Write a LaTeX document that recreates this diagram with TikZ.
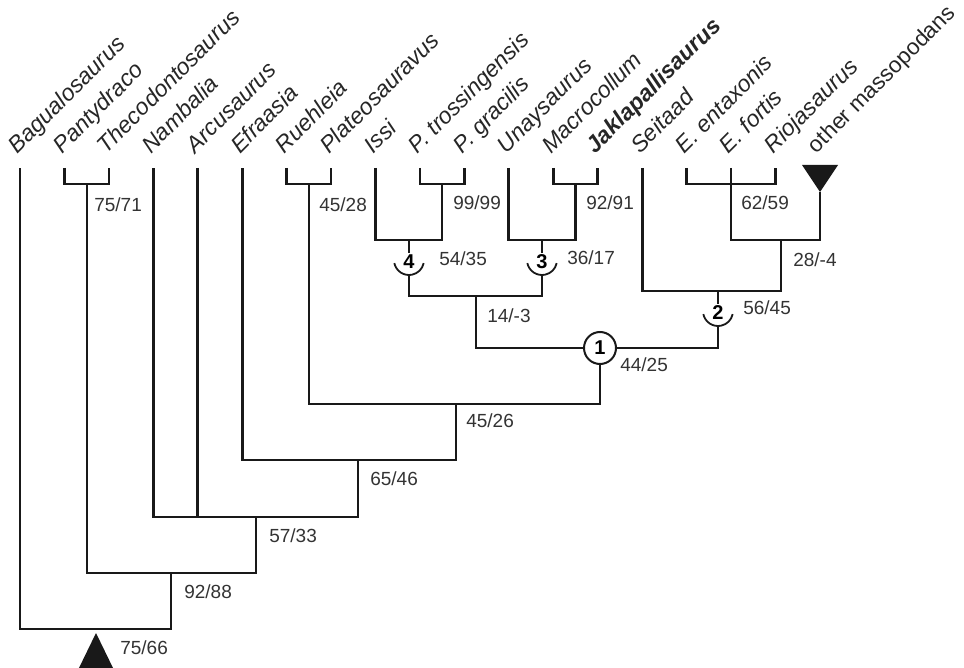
\documentclass[tikz,border=0pt]{standalone}
\usepackage{fontspec}
\setmainfont{Liberation Sans}
\begin{document}
\begin{tikzpicture}[x=1pt,y=-1pt,
  line width=2.6pt, line join=miter,
  taxon/.style={font=\fontsize{23}{28}\selectfont\itshape, rotate=45, anchor=base west, inner sep=0pt, text=black!85},
  supp/.style={font=\fontsize{19}{22}\selectfont, anchor=west, inner sep=0pt, text=black!80},
  nodenum/.style={font=\fontsize{20}{22}\selectfont\bfseries, inner sep=0.6pt},
  tree/.style={draw=black!90, line width=2.7pt}
]
\useasboundingbox (0,0) rectangle (964,668);

% tip coordinates
\coordinate (t1) at (20,168);
\coordinate (t2) at (64.4,168);
\coordinate (t3) at (108.9,168);
\coordinate (t4) at (153.3,168);
\coordinate (t5) at (197.8,168);
\coordinate (t6) at (242.2,168);
\coordinate (t7) at (286.6,168);
\coordinate (t8) at (331.1,168);
\coordinate (t9) at (375.5,168);
\coordinate (t10) at (420,168);
\coordinate (t11) at (464.4,168);
\coordinate (t12) at (508.8,168);
\coordinate (t13) at (553.3,168);
\coordinate (t14) at (597.7,168);
\coordinate (t15) at (642.2,168);
\coordinate (t16) at (686.6,168);
\coordinate (t17) at (731,168);
\coordinate (t18) at (775.5,168);
\coordinate (m19) at (820,192);

% taxon labels
\node[taxon] (L1) at (17,155) {Bagualosaurus};
\node[taxon] (L2) at (61.4,155) {Pantydraco};
\node[taxon] (L3) at (105.9,155) {Thecodontosaurus};
\node[taxon] (L4) at (150.3,155) {Nambalia};
\node[taxon] (L5) at (194.8,155) {Arcusaurus};
\node[taxon] (L6) at (239.2,155) {Efraasia};
\node[taxon] (L7) at (283.6,155) {Ruehleia};
\node[taxon] (L8) at (328.1,155) {Plateosauravus};
\node[taxon] (L9) at (372.5,155) {Issi};
\node[taxon] (L10) at (417,155) {P. trossingensis};
\node[taxon] (L11) at (461.4,155) {P. gracilis};
\node[taxon] (L12) at (505.8,155) {Unaysaurus};
\node[taxon] (L13) at (550.3,155) {Macrocollum};
\node[taxon, font=\fontsize{23}{28}\selectfont\bfseries\itshape] (L14) at (594.7,155) {Jaklapallisaurus};
\node[taxon] (L15) at (639.2,155) {Seitaad};
\node[taxon] (L16) at (683.6,155) {E. entaxonis};
\node[taxon] (L17) at (728,155) {E. fortis};
\node[taxon] (L18) at (772.5,155) {Riojasaurus};
\node[taxon, font=\fontsize{22.5}{28}\selectfont] (L19) at (816,155) {other massopodans};

% clade junctions
\coordinate (cPanty) at (87,184);
\coordinate (cRueh) at (309,184);
\coordinate (cPlat) at (442,184);
\coordinate (cMJ) at (575.5,184);
\coordinate (cEE) at (731,184);
\coordinate (c4) at (409,240);
\coordinate (c3) at (542,240);
\coordinate (cEF) at (781,240);
\coordinate (c2) at (718,291);
\coordinate (c143) at (476,296);
\coordinate (c4526) at (456,404);
\coordinate (c6546) at (358,460);
\coordinate (c5733) at (256,517);
\coordinate (c9288) at (171,573);
\coordinate (cRoot) at (96,629);

% node symbols
\node[nodenum] (s4) at (409,262) {4};
\node[nodenum] (s3) at (542,262) {3};
\node[nodenum] (s2) at (718,313) {2};
\coordinate (s4b) at (409,275);
\coordinate (s3b) at (542,275);
\coordinate (s2b) at (718,326);
\node[circle, draw=black!90, fill=white, line width=2pt, minimum size=32, inner sep=0pt,
      font=\fontsize{20}{22}\selectfont\bfseries] (s1) at (600,348) {1};

% arcs under node numbers
\draw[tree, line width=1.8pt] (s4.center) ++(0,-2) ++(168:15) arc[start angle=168, end angle=12, radius=15];
\draw[tree, line width=1.8pt] (s3.center) ++(0,-2) ++(168:15) arc[start angle=168, end angle=12, radius=15];
\draw[tree, line width=1.8pt] (s2.center) ++(0,-2) ++(168:15) arc[start angle=168, end angle=12, radius=15];

% branches
\draw[tree] (t2) |- (cPanty) -| (t3);
\draw[tree] (t7) |- (cRueh) -| (t8);
\draw[tree] (t10) |- (cPlat) -| (t11);
\draw[tree] (t13) |- (cMJ) -| (t14);
\draw[tree] (t16) |- (cEE) -| (t18);
\draw[tree] (t17) |- (cEF) -| (m19);
\draw[tree] (t9) |- (c4) -| (cPlat);
\draw[tree] (t12) |- (c3) -| (cMJ);
\draw[tree] (t15) |- (c2) -| (cEF);
\draw[tree] (c4) -- (s4.north);
\draw[tree] (c3) -- (s3.north);
\draw[tree] (c2) -- (s2.north);
\draw[tree] (s4b) |- (c143) -| (s3b);
\draw[tree] (c143) |- (s1.west);
\draw[tree] (s1.east) -| (s2b);
\draw[tree] (s1.south) |- (c4526) -| (cRueh);
\draw[tree] (c4526) |- (c6546) -| (t6);
\draw[tree] (c6546) |- (c5733) -| (t4);
\draw[tree] (t5) -- (t5 |- c5733);
\draw[tree] (c5733) |- (c9288) -| (cPanty);
\draw[tree] (c9288) |- (cRoot) -| (t1);

% triangles
\coordinate (triTop) at (820,192);
\fill[black!90] (802,165) -- (838,165) -- (triTop) -- cycle;
\coordinate (rootApex) at (96,633);
\fill[black!90] (rootApex) -- (114,670) -- (78,670) -- cycle;

% support values
\node[supp] (b1) at (93,205) {75/71};
\node[supp] (b2) at (318,205) {45/28};
\node[supp] (b3) at (452,203) {99/99};
\node[supp] (b4) at (585,203) {92/91};
\node[supp] (b5) at (740,203) {62/59};
\node[supp] (b6) at (438,259) {54/35};
\node[supp] (b7) at (566,258) {36/17};
\node[supp] (b8) at (792,260) {28/-4};
\node[supp] (b9) at (742,308) {56/45};
\node[supp] (b10) at (486,316) {14/-3};
\node[supp] (b11) at (619,365) {44/25};
\node[supp] (b12) at (465,421) {45/26};
\node[supp] (b13) at (369,479) {65/46};
\node[supp] (b14) at (268,536) {57/33};
\node[supp] (b15) at (183,592) {92/88};
\node[supp] (b16) at (119,648) {75/66};
\end{tikzpicture}
\end{document}
